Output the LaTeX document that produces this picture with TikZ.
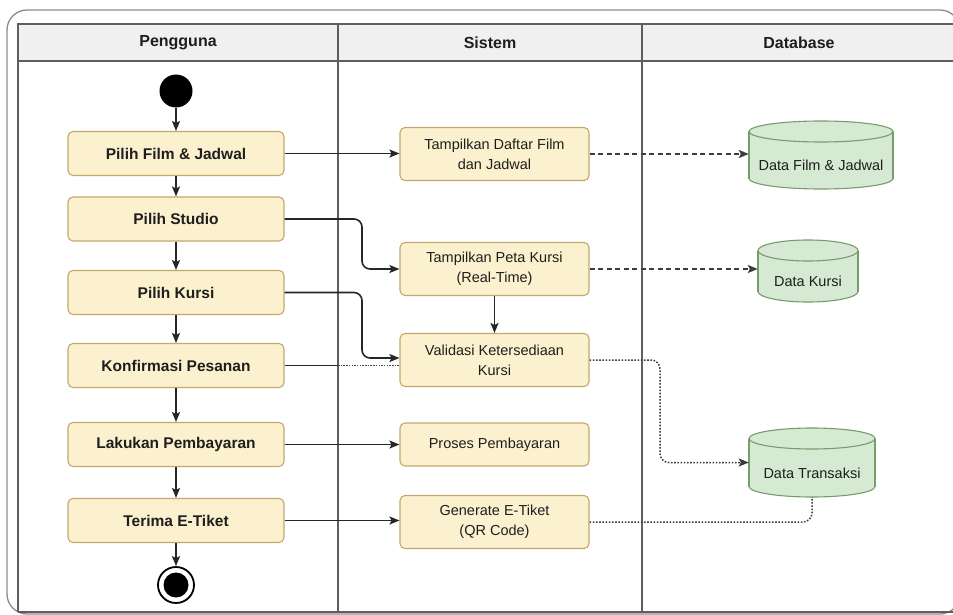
\documentclass[tikz,border=0pt]{standalone}
\usepackage{fontspec}
\setmainfont{Liberation Sans}
\usetikzlibrary{arrows.meta,calc}

\definecolor{boxfill}{HTML}{FCF1CE}
\definecolor{boxline}{HTML}{C4A86C}
\definecolor{dbfillc}{HTML}{D6E9D3}
\definecolor{dblinec}{HTML}{789C6D}
\definecolor{lanec}{HTML}{5E5E5E}
\definecolor{framec}{HTML}{8C8C8C}
\definecolor{headc}{HTML}{F0F0F0}
\definecolor{conc}{HTML}{262626}
\definecolor{txtc}{HTML}{1E1E1E}

\tikzset{
  userbox/.style={draw=boxline, fill=boxfill, line width=1.1pt, rounded corners=5pt,
    minimum width=216pt, minimum height=44pt, inner sep=0pt, text=txtc,
    font=\fontsize{15.5}{19}\selectfont\bfseries},
  sysbox/.style={draw=boxline, fill=boxfill, line width=1.1pt, rounded corners=5pt,
    minimum width=189pt, minimum height=53pt, inner sep=0pt, align=center, text=txtc,
    font=\fontsize{14.5}{20}\selectfont},
  headtext/.style={text=txtc, font=\fontsize{16}{19}\selectfont\bfseries},
  dbtext/.style={text=txtc, font=\fontsize{14.5}{18}\selectfont},
  dbarea/.style={draw=none, inner sep=0pt},
  dbfill/.style={fill=dbfillc},
  dbline/.style={draw=dblinec, line width=1.1pt},
  tipA/.style={-{Stealth[length=10pt,width=8pt,inset=2pt]}},
  flow/.style={draw=conc, line width=1.6pt, tipA},
  plainline/.style={draw=conc, line width=1.6pt},
  dataflow/.style={draw=conc!90, line width=1.5pt, dash pattern=on 5pt off 3.5pt, tipA},
  dotflow/.style={draw=conc!90, line width=1.5pt, dash pattern=on 1.6pt off 1.6pt, rounded corners=9pt},
}

% database cylinder: name, centre x, centre y, width, height, label
\newcommand\dbcyl[6]{%
  \pgfmathsetmacro\dbCx{#2}%
  \pgfmathsetmacro\dbRx{#4/2}%
  \pgfmathsetmacro\dbTop{#3-#5/2+10.5}%
  \pgfmathsetmacro\dbBot{#3+#5/2-10.5}%
  \pgfmathsetmacro\dbMid{(\dbTop+10.5+#3+#5/2)/2}%
  \fill[dbfill] (\dbCx,\dbBot) ellipse[x radius=\dbRx pt, y radius=10.5pt];
  \draw[dbline] (\dbCx,\dbBot) ellipse[x radius=\dbRx pt, y radius=10.5pt];
  \fill[dbfill] ({\dbCx-\dbRx},\dbTop) rectangle ({\dbCx+\dbRx},\dbBot);
  \draw[dbline] ({\dbCx-\dbRx},\dbTop) -- ({\dbCx-\dbRx},\dbBot)
                ({\dbCx+\dbRx},\dbTop) -- ({\dbCx+\dbRx},\dbBot);
  \filldraw[dbfill,dbline] (\dbCx,\dbTop) ellipse[x radius=\dbRx pt, y radius=10.5pt];
  \node[dbarea, minimum width=#4pt, minimum height=#5pt] (#1) at (#2,#3) {};
  \node[dbtext] (#1-label) at (\dbCx,\dbMid) {#6};
}

\begin{document}
\begin{tikzpicture}[x=1pt,y=-1pt]
\useasboundingbox (0,0) rectangle (953,615);
\fill[white] (0,0) rectangle (953,615);

% outer frame
\draw[framec, line width=1.3pt, rounded corners=20pt] (7,10) rectangle (960,614);

% swimlane table
\fill[headc] (18,24) rectangle (960,61);
\draw[lanec, line width=1.5pt] (18,612) -- (18,24) -- (960,24);
\draw[lanec, line width=1.5pt] (18,61) -- (960,61);
\draw[lanec, line width=1.3pt] (18,612) -- (960,612);
\draw[lanec, line width=1.5pt] (338,24) -- (338,612);
\draw[lanec, line width=1.5pt] (642,24) -- (642,612);
\coordinate (div1) at (338,0);
\coordinate (bendA) at (362,0);
\coordinate (bendB) at (660,0);

\node[headtext] (h1) at (178,43) {Pengguna};
\node[headtext] (h2) at (490,43) {Sistem};
\node[headtext] (h3) at (799,43) {Database};

% Pengguna lane
\node[circle, fill=black, minimum size=33pt, inner sep=0pt] (start) at (176,91) {};
\node[userbox] (n1) at (176,153.5) {Pilih Film \& Jadwal};
\node[userbox] (n2) at (176,219) {Pilih Studio};
\node[userbox] (n3) at (176,292.5) {Pilih Kursi};
\node[userbox] (n4) at (176,365.5) {Konfirmasi Pesanan};
\node[userbox] (n5) at (176,444.5) {Lakukan Pembayaran};
\node[userbox] (n6) at (176,520.5) {Terima E-Tiket};
\node[circle, draw=black, line width=1.8pt, fill=white, minimum size=36pt, inner sep=0pt] (stop) at (176,585) {};
\node[circle, fill=black, minimum size=25pt, inner sep=0pt] (stopdot) at (176,585) {};

% Sistem lane
\node[sysbox] (s1) at (494.5,154) {Tampilkan Daftar Film\\dan Jadwal};
\node[sysbox] (s2) at (494.5,269) {Tampilkan Peta Kursi\\(Real-Time)};
\node[sysbox] (s3) at (494.5,360) {Validasi Ketersediaan\\Kursi};
\node[sysbox, minimum height=43pt] (s4) at (494.5,444.5) {Proses Pembayaran};
\node[sysbox] (s5) at (494.5,522) {Generate E-Tiket\\(QR Code)};

% Database lane
\dbcyl{d1}{821}{155}{144}{68}{Data Film \& Jadwal}
\dbcyl{d2}{808}{271}{100}{62}{Data Kursi}
\dbcyl{d3}{812}{462.5}{126}{69}{Data Transaksi}

% main flow
\draw[flow] (start) -- (n1);
\draw[flow] (n1) -- (n2);
\draw[flow] (n2) -- (n3);
\draw[flow] (n3) -- (n4);
\draw[flow] (n4) -- (n5);
\draw[flow] (n5) -- (n6);
\draw[flow] (n6) -- (stop);

% user actions to system
\draw[flow] (n1.east) -- (n1.east -| s1.west);
\draw[flow, rounded corners=8pt] (n2.east) -- (n2.east -| bendA) |- (s2.west);
\draw[flow, rounded corners=8pt] (n3.east) -- (n3.east -| bendA) |- ([yshift=2pt]s3.west);
\draw[plainline] (n4.east) -- (n4.east -| div1);
\draw[conc!85, line width=1.4pt, dash pattern=on 1.5pt off 1.2pt] (n4.east -| div1) -- (n4.east -| s3.west);
\draw[flow] (s2) -- (s3);
\draw[flow] (n5.east) -- (n5.east -| s4.west);
\draw[flow] (n6.east) -- (n6.east -| s5.west);

% system to database
\draw[dataflow] (s1.east) -- (s1.east -| d1.west);
\draw[dataflow] (s2.east) -- (s2.east -| d2.west);
\draw[dotflow, tipA] (s3.east) -- (s3.east -| bendB) |- (d3.west);
\draw[dotflow] (s5.east) -| (d3.south);
\end{tikzpicture}
\end{document}
